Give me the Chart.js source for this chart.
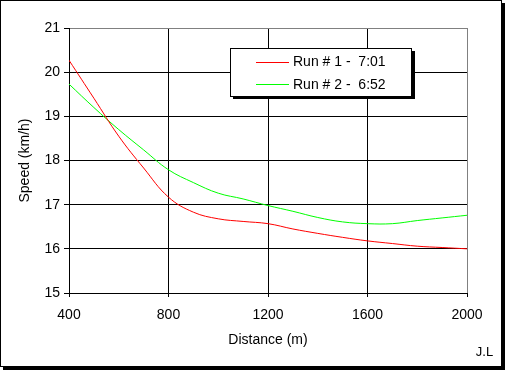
<!DOCTYPE html>
<html>
<head>
<meta charset="utf-8">
<script src="https://cdn.jsdelivr.net/npm/chart.js@4/dist/chart.umd.min.js"></script>
<style>
  body { margin: 0; background: #fff; }
  canvas { display: block; }
</style>
</head>
<body>
<canvas id="myChart" width="506" height="370"></canvas>
<script>
// distance in metres, speed in km/h
const distances = [400, 500, 600, 700, 800, 900, 1000, 1100, 1200, 1300, 1400, 1500, 1600, 1700, 1800, 1900, 2000];
const run1 = [20.27, 19.41, 18.55, 17.83, 17.17, 16.83, 16.68, 16.62, 16.57, 16.45, 16.35, 16.26, 16.18, 16.12, 16.06, 16.03, 16.0];
const run2 = [19.73, 19.20, 18.70, 18.24, 17.79, 17.50, 17.26, 17.13, 16.98, 16.85, 16.71, 16.61, 16.57, 16.57, 16.64, 16.70, 16.76];
const seriesLabels = ['Run # 1 -  7:01', 'Run # 2 -  6:52'];
const xTicks = [400, 800, 1200, 1600, 2000];
const yTicks = [15, 16, 17, 18, 19, 20, 21];
const xTitle = 'Distance (m)';
const yTitle = 'Speed (km/h)';
const note = 'J.L';

Chart.defaults.font.family = '"Liberation Sans", Arial, sans-serif';
Chart.defaults.font.size = 14;
Chart.defaults.color = '#000';

const pts = arr => arr.map((v, i) => ({x: distances[i], y: v}));

// frame with drop shadow, legend box and the little signature
const decor = {
  id: 'decor',
  beforeDraw(chart) {
    const ctx = chart.ctx;
    ctx.save();
    ctx.fillStyle = '#fff';
    ctx.fillRect(0, 0, chart.width, chart.height);
    ctx.fillStyle = '#000';
    ctx.fillRect(502, 3, 3, 367);
    ctx.fillRect(3, 367, 502, 3);
    ctx.strokeStyle = '#000';
    ctx.lineWidth = 1;
    ctx.strokeRect(0.5, 0.5, 501, 366);
    ctx.restore();
  },
  afterDraw(chart) {
    const ctx = chart.ctx;
    ctx.save();
    // legend
    ctx.fillStyle = '#000';
    ctx.fillRect(233, 51, 182, 48);
    ctx.fillStyle = '#fff';
    ctx.fillRect(230.5, 48.5, 181, 48);
    ctx.strokeStyle = '#000';
    ctx.lineWidth = 1;
    ctx.strokeRect(230.5, 48.5, 181, 48);
    ctx.font = '14px "Liberation Sans", Arial, sans-serif';
    ctx.textBaseline = 'middle';
    ctx.textAlign = 'left';
    chart.data.datasets.forEach((ds, i) => {
      const y = 61.5 + i * 22.5;
      ctx.strokeStyle = ds.borderColor;
      ctx.beginPath();
      ctx.moveTo(256, Math.round(y) + 0.5);
      ctx.lineTo(289, Math.round(y) + 0.5);
      ctx.stroke();
      ctx.fillStyle = '#000';
      ctx.fillText(ds.label, 293, y + 1);
    });
    ctx.font = '13px "Liberation Sans", Arial, sans-serif';
    ctx.textAlign = 'center';
    ctx.fillText(note, 484.5, 352.5);
    ctx.restore();
  }
};

new Chart(document.getElementById('myChart'), {
  type: 'line',
  data: {
    datasets: [{
      label: seriesLabels[0],
      data: pts(run1),
      borderColor: '#ff0000',
      borderWidth: 1,
      pointRadius: 0,
      tension: 0.4,
      fill: false
    }, {
      label: seriesLabels[1],
      data: pts(run2),
      borderColor: '#00ff00',
      borderWidth: 1,
      pointRadius: 0,
      tension: 0.4,
      fill: false
    }]
  },
  options: {
    responsive: false,
    animation: false,
    devicePixelRatio: 1,
    layout: {padding: {top: 28, right: 39, left: 0, bottom: 0}},
    plugins: {legend: {display: false}, tooltip: {enabled: false}},
    scales: {
      x: {
        type: 'linear',
        min: 400,
        max: 2000,
        afterBuildTicks: s => { s.ticks = xTicks.map(v => ({value: v})); },
        afterFit: s => { s.height = 77; },
        grid: {
          color: c => c.tick && c.tick.value === 2000 ? '#808080' : '#000',
          tickColor: '#000',
          tickLength: 4,
          lineWidth: 1
        },
        border: {color: '#000'},
        ticks: {padding: 10, maxRotation: 0, callback: v => String(v)},
        title: {display: true, text: xTitle, padding: {top: 0, bottom: 21}}
      },
      y: {
        type: 'linear',
        min: 15,
        max: 21,
        afterBuildTicks: s => { s.ticks = yTicks.map(v => ({value: v})); },
        afterFit: s => { s.width = 69; },
        grid: {
          color: c => c.tick && c.tick.value === 21 ? '#808080' : '#000',
          tickColor: '#000',
          tickLength: 5,
          lineWidth: 1
        },
        border: {color: '#000'},
        ticks: {padding: 4, callback: v => String(v)},
        title: {display: true, text: yTitle, padding: {top: 17, bottom: 0}}
      }
    }
  },
  plugins: [decor]
});
</script>
</body>
</html>
